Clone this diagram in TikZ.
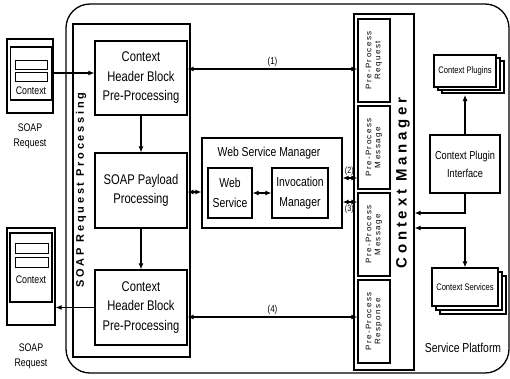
\documentclass[tikz,border=0pt]{standalone}
\usepackage{fontspec}
\setmainfont{Liberation Sans}[FakeStretch=0.8]
\newfontfamily\spacedsans{Liberation Sans}[LetterSpace=25]
\newfontfamily\tinysans{Liberation Sans}[LetterSpace=18]
\usetikzlibrary{arrows.meta,shadows,positioning}

\begin{document}
\begin{tikzpicture}[x=1pt,y=-1pt,>={Latex[length=6pt,width=5pt]}]
\useasboundingbox (0,0) rectangle (510,378);

% service platform frame
\node (platform) [draw,line width=1.3pt,rounded corners=24pt,minimum width=443,minimum height=369] at (287.5,188.5) {};

% incoming and outgoing soap messages
\begin{scope}[every node/.style={draw,line width=1.1pt,inner sep=0pt}]
	\node (req1) [minimum width=46,minimum height=74] at (30,76) {};
	\node (req1in) [minimum width=41,minimum height=53] at (31,73.5) {};
	\node (req1a) [minimum width=32,minimum height=9,line width=0.9pt] at (31,64.5) {};
	\node (req1b) [minimum width=32,minimum height=9,line width=0.9pt] at (31,76.5) {};
	\node (req2) [minimum width=48,minimum height=97] at (31,276.5) {};
	\node (req2in) [minimum width=42,minimum height=69] at (31,267.5) {};
	\node (req2a) [minimum width=33,minimum height=10,line width=0.9pt] at (31.5,248) {};
	\node (req2b) [minimum width=33,minimum height=10,line width=0.9pt] at (31.5,262) {};
\end{scope}

\begin{scope}[every node/.style={align=center,inner sep=0pt,font=\fontsize{11}{15}\selectfont}]
	\node (ctx1) at (31,91) {Context};
	\node (ctx2) at (31,280) {Context};
	\node (req1lbl) at (30,136) {SOAP\\Request};
	\node (req2lbl) at (31,356) {SOAP\\Request};
\end{scope}

% soap request processing
\begin{scope}[every node/.style={draw,line width=1.2pt,fill=white,align=center,inner sep=0pt,font=\fontsize{14}{19.5}\selectfont}]
	\node (reqproc) [minimum width=117,minimum height=333] at (131.5,190.5) {};
	\node (chb1) [minimum width=92,minimum height=74] at (141,78) {Context\\Header Block\\Pre-Processing};
	\node (payload) [minimum width=92,minimum height=75] at (141,190.5) {SOAP Payload\\Processing};
	\node (chb2) [minimum width=92,minimum height=75] at (141,307.5) {Context\\Header Block\\Pre-Processing};
	% web service manager
	\node (wsm) [minimum width=140,minimum height=90] at (272,183) {};
	\node (websvc) [minimum width=44,minimum height=50,font=\fontsize{13}{20}\selectfont] at (230,193) {Web\\Service};
	\node (invoc) [minimum width=56,minimum height=50,font=\fontsize{13}{20}\selectfont] at (300,193) {Invocation\\Manager};
	% context manager
	\node (ctxmgr) [minimum width=60,minimum height=356] at (384,192) {};
	\node (pre1) [minimum width=32,minimum height=83] at (374,60.5) {};
	\node (pre2) [minimum width=32,minimum height=83] at (374,147.5) {};
	\node (pre3) [minimum width=32,minimum height=83] at (374,234.5) {};
	\node (pre4) [minimum width=32,minimum height=83] at (374,321.5) {};
	% plugins and services
	\node (plugins) [minimum width=62,minimum height=32,font=\fontsize{9.5}{12}\selectfont,
		double copy shadow={shadow xshift=4pt,shadow yshift=-3pt}] at (465,71) {Context Plugins};
	\node (cpi) [minimum width=70,minimum height=58,font=\fontsize{11.5}{18}\selectfont] at (465,164) {Context Plugin\\Interface};
	\node (services) [minimum width=66,minimum height=38,font=\fontsize{9.5}{12}\selectfont,
		double copy shadow={shadow xshift=4pt,shadow yshift=-4pt}] at (465,287) {Context Services};
\end{scope}

\begin{scope}[every node/.style={align=center,inner sep=0pt}]
	\node (wsmlbl) [font=\fontsize{13}{15}\selectfont] at (269,153) {Web Service Manager};
	\node (proclbl) [rotate=90,font=\spacedsans\bfseries\fontsize{11}{13}\selectfont] at (81,190) {SOAP Request Processing};
	\node (mgrlbl) [rotate=90,font=\spacedsans\bfseries\fontsize{15}{17}\selectfont] at (403,183) {Context Manager};
	\node (pre1lbl) [rotate=90,font=\tinysans\fontsize{8}{9}\selectfont] at (pre1) {Pre-Process\\Request};
	\node (pre2lbl) [rotate=90,font=\tinysans\fontsize{8}{9}\selectfont] at (pre2) {Pre-Process\\Message};
	\node (pre3lbl) [rotate=90,font=\tinysans\fontsize{8}{9}\selectfont] at (pre3) {Pre-Process\\Message};
	\node (pre4lbl) [rotate=90,font=\tinysans\fontsize{8}{9}\selectfont] at (pre4) {Pre-Process\\Response};
	\node (platlbl) [font=\fontsize{13}{15}\selectfont] at (463,348) {Service Platform};
\end{scope}

\coordinate (plugbase) at (465,95);

\begin{scope}[every edge/.style={draw=black,line width=1.1pt},every node/.style={font=\fontsize{10}{12}\selectfont,inner sep=2pt}]
	\path [->] (req1.east |- 0,73) edge (chb1.west |- 0,73);
	\path [->] (chb2.west) edge (req2.east |- chb2.west);
	\path [->] (chb1) edge (payload);
	\path [->] (payload) edge (chb2);
	\path [<->] (payload.east |- 0,192) edge (wsm.west |- 0,192);
	\path [<->] (websvc) edge (invoc);
	\path [<->] (chb1.east |- 0,69) edge node [above] {(1)} (pre1.west |- 0,69);
	\path [<->] (wsm.east |- 0,178) edge node [above,pos=0.45,font=\fontsize{9}{11}\selectfont] {(2)} (pre2.west |- 0,178);
	\path [<->] (wsm.east |- 0,202) edge node [below,pos=0.45,font=\fontsize{9}{11}\selectfont] {(3)} (pre3.west |- 0,202);
	\path [<->] (chb2.east |- 0,317) edge node [above] {(4)} (pre4.west |- 0,317);
	\path [->] (cpi) edge (plugbase);
\end{scope}

\draw [->,line width=1.1pt] (cpi.south) |- (ctxmgr.east |- 0,213);
\draw [<->,line width=1.1pt] (ctxmgr.east |- 0,228) -| (services.north);
\end{tikzpicture}
\end{document}
